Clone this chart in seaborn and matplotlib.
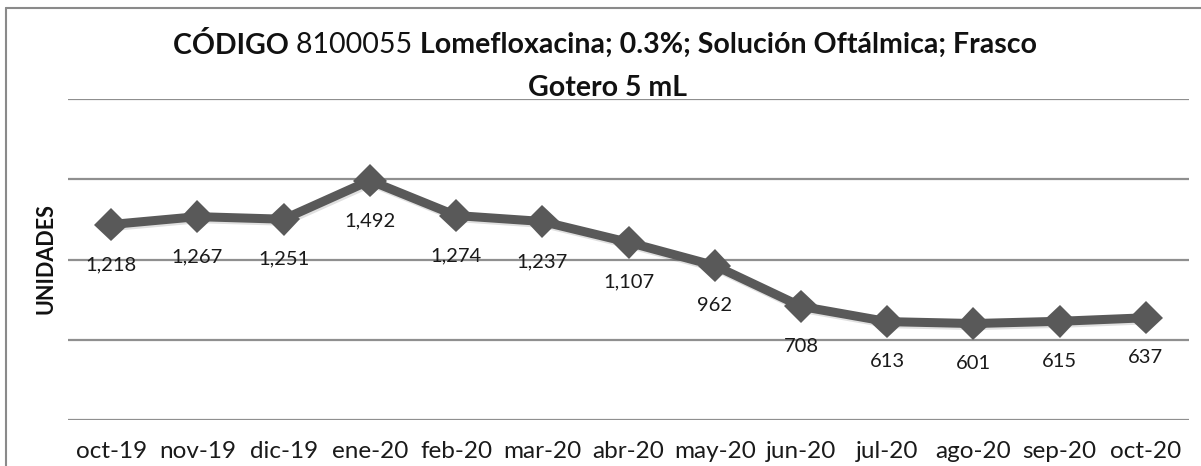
import matplotlib
matplotlib.use("Agg")
import matplotlib.pyplot as plt
import matplotlib.patheffects as pe
from matplotlib.lines import Line2D
import seaborn as sns
import pandas as pd

months = ["oct-19", "nov-19", "dic-19", "ene-20", "feb-20", "mar-20", "abr-20",
          "may-20", "jun-20", "jul-20", "ago-20", "sep-20", "oct-20"]
units = [1218, 1267, 1251, 1492, 1274, 1237, 1107, 962, 708, 613, 601, 615, 637]
grid_values = [0, 500, 1000, 1500, 2000]
title_parts = [("CÓDIGO ", "bold"), ("8100055 ", "normal"),
               ("Lomefloxacina; 0.3%; Solución Oftálmica; Frasco", "bold")]
title_line2 = "Gotero 5 mL"
ylabel = "UNIDADES"

sns.set_theme(style="white")
plt.rcParams["font.family"] = ["Lato", "DejaVu Sans"]

W, H = 1201, 466
fig = plt.figure(figsize=(W / 100, H / 100), dpi=100)
ax = fig.add_axes([68 / W, 1 - 420 / H, 1121 / W, 321 / H])

df = pd.DataFrame({"mes": months, "unidades": units})

for g in grid_values:
    ax.axhline(g, color="#8f8f8f", lw=1.6, zorder=1)

shadow = [pe.SimpleLineShadow(offset=(1, -1.5), alpha=0.12, shadow_color="black"), pe.Normal()]
sns.lineplot(data=df, x="mes", y="unidades", ax=ax, color="#595959", lw=6.5,
             marker="D", markersize=17, markeredgewidth=0, zorder=3,
             path_effects=shadow)

for i, v in enumerate(units):
    ax.annotate(f"{v:,}", (i, v), xytext=(0, -40), textcoords="offset pixels",
                ha="center", va="center", fontsize=14.5, color="#1a1a1a", zorder=4)

ax.set_xlim(-0.5, len(months) - 0.5)
ax.set_ylim(0, 2000)
ax.set_yticks([])
ax.set_xlabel("")
ax.set_ylabel("")
for s in ax.spines.values():
    s.set_visible(False)
ax.tick_params(axis="x", length=0, pad=15, labelsize=17.5, labelcolor="#1a1a1a")

fig.text(46 / W, 1 - 259 / H, ylabel, rotation=90, ha="center", va="center",
         fontsize=15.5, fontweight="bold", color="#111111")

# Title line 1 with mixed weights
renderer = fig.canvas.get_renderer()
texts = []
for s, w in title_parts:
    t = fig.text(0, 1 - 45 / H, s, fontsize=20.5, fontweight=w, ha="left", va="center",
                 color="#111111")
    texts.append(t)
widths = [t.get_window_extent(renderer).width for t in texts]
total = sum(widths)
start = 605 - total / 2
for t, wdt in zip(texts, widths):
    t.set_x(start / W)
    start += wdt
fig.text(607 / W, 1 - 88 / H, title_line2, fontsize=20.5, fontweight="bold",
         ha="center", va="center", color="#111111")

# chart frame (top and left edges visible)
fig.add_artist(Line2D([6 / W, 1.0], [1 - 8 / H, 1 - 8 / H], color="#8a8a8a", lw=1.5,
                      transform=fig.transFigure))
fig.add_artist(Line2D([6 / W, 6 / W], [1 - 8 / H, 0], color="#8a8a8a", lw=1.5,
                      transform=fig.transFigure))

fig.savefig("out.png", dpi=100, facecolor="white")
